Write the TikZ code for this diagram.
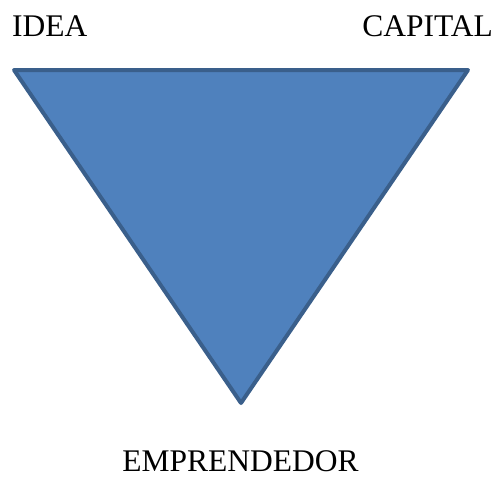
\documentclass[tikz,border=0pt]{standalone}
\usepackage{fontspec}
\setmainfont{Liberation Serif}
\usepackage{tikz}
\usetikzlibrary{positioning}
\definecolor{triblue}{HTML}{4F81BD}
\definecolor{triedge}{HTML}{3A5F8B}

\begin{document}
\begin{tikzpicture}[x=1pt,y=-1pt,
	label text/.style={inner sep=0pt,font=\fontsize{31.5}{36}\selectfont},
	main tri/.style={fill=triblue,draw=triedge,line width=4pt,line join=round}]
	
	\useasboundingbox (0,0) rectangle (497,477);
	
	\coordinate (tl) at (14,70);
	\coordinate (tr) at (468,70);
	\coordinate (bot) at (241,403);
	\draw[main tri] (tl) -- (tr) -- (bot) -- cycle;
	
	\node[label text,anchor=base west] (idea) at (12,36) {IDEA};
	\node[label text,anchor=base east] (capital) at (493,36) {CAPITAL};
	\node[label text,anchor=base] (emprendedor) at (240.5,471) {EMPRENDEDOR};
	
\end{tikzpicture}
\end{document}
